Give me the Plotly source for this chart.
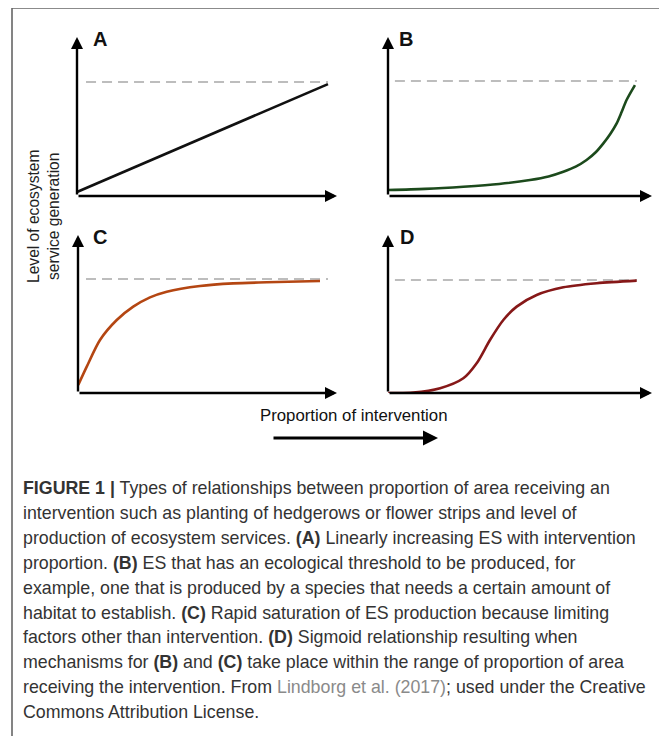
import plotly.graph_objects as go

W, H = 667, 736
OFF = 8  # page body margin in the browser

# ---- data (proportion of intervention, level of ES; 1 = saturation level) ----
a_x = [0.0, 1.0]
a_y = [0.035, 0.982]

b_x = [0.001, 0.15, 0.305, 0.45, 0.575, 0.65, 0.71, 0.76, 0.804, 0.84, 0.872, 0.90, 0.926, 0.946, 0.966, 1.0]
b_y = [0.052, 0.062, 0.081, 0.105, 0.139, 0.170, 0.211, 0.255, 0.313, 0.378, 0.458, 0.540, 0.632, 0.730, 0.835, 0.965]

c_x = [0.001, 0.035, 0.088, 0.155, 0.221, 0.288, 0.355, 0.488, 0.621, 0.755, 0.968]
c_y = [0.070, 0.231, 0.465, 0.640, 0.757, 0.839, 0.889, 0.939, 0.962, 0.971, 0.982]

d_x = [0.001, 0.102, 0.211, 0.305, 0.359, 0.413, 0.467, 0.521, 0.602, 0.710, 0.845, 1.007]
d_y = [0.0, 0.003, 0.042, 0.130, 0.263, 0.469, 0.646, 0.764, 0.867, 0.935, 0.971, 0.994]

thr_a_x = [0.036, 1.0]
thr_b_x = [0.028, 1.008]
thr_c_x = [0.032, 1.0]
thr_d_x = [0.028, 1.008]
thr_y = [1.0, 1.0]

panel_labels = ["A", "B", "C", "D"]
y_title = "Level of ecosystem<br>service generation"
x_title = "Proportion of intervention"

caption_lines = [
    "<b>FIGURE 1 |</b> Types of relationships between proportion of area receiving an",
    "intervention such as planting of hedgerows or flower strips and level of",
    "production of ecosystem services. <b>(A)</b> Linearly increasing ES with intervention",
    "proportion. <b>(B)</b> ES that has an ecological threshold to be produced, for",
    "example, one that is produced by a species that needs a certain amount of",
    "habitat to establish. <b>(C)</b> Rapid saturation of ES production because limiting",
    "factors other than intervention. <b>(D)</b> Sigmoid relationship resulting when",
    "mechanisms for <b>(B)</b> and <b>(C)</b> take place within the range of proportion of area",
    "receiving the intervention. From <span style='color:#8a8a8a'>Lindborg et al. (2017)</span>; used under the Creative",
    "Commons Attribution License.",
]

FONT = "Liberation Sans, Arial, sans-serif"


def px_x(p):
    return (p - OFF) / W


def px_y(p):
    return 1 - (p - OFF) / H


panels = {
    "A": dict(xd=(77, 337), yd=(196, 37), xr=1.036, yr=1.395),
    "B": dict(xd=(388, 652), yd=(196, 37), xr=1.069, yr=1.383),
    "C": dict(xd=(78, 337), yd=(393, 235), xr=1.036, yr=1.386),
    "D": dict(xd=(388, 652), yd=(393, 235), xr=1.069, yr=1.398),
}
series = {
    "A": (a_x, a_y, "#111111", thr_a_x),
    "B": (b_x, b_y, "#1c4a1c", thr_b_x),
    "C": (c_x, c_y, "#b44612", thr_c_x),
    "D": (d_x, d_y, "#861818", thr_d_x),
}
label_pos = {"A": (100, 39), "B": (406, 39), "C": (100, 237), "D": (407, 237)}

fig = go.Figure()
layout = dict(
    width=W, height=H, margin=dict(l=0, r=0, t=0, b=0),
    paper_bgcolor="white", plot_bgcolor="rgba(0,0,0,0)", showlegend=False,
)
annotations = []

for i, name in enumerate(panel_labels):
    g = panels[name]
    idx = "" if i == 0 else str(i + 1)
    xa, ya = "x" + idx, "y" + idx
    layout["xaxis" + idx] = dict(
        domain=[px_x(g["xd"][0]), px_x(g["xd"][1])], range=[0, g["xr"]],
        visible=False, anchor=ya, fixedrange=True,
    )
    layout["yaxis" + idx] = dict(
        domain=[px_y(g["yd"][0]), px_y(g["yd"][1])], range=[0, g["yr"]],
        visible=False, anchor=xa, fixedrange=True,
    )
    sx, sy, col, tx = series[name]
    fig.add_trace(go.Scatter(
        x=tx, y=thr_y, mode="lines", xaxis=xa, yaxis=ya,
        line=dict(color="#bdbdbd", width=2, dash="10px,6px"), hoverinfo="skip",
    ))
    fig.add_trace(go.Scatter(
        x=sx, y=sy, mode="lines", xaxis=xa, yaxis=ya,
        line=dict(color=col, width=2.6, shape="spline", smoothing=0.8),
    ))
    annotations.append(dict(
        x=g["xr"], y=0, ax=0, ay=0, xref=xa, yref=ya, axref=xa, ayref=ya,
        text="", showarrow=True, arrowhead=2, arrowsize=1.0, arrowwidth=2.4,
        arrowcolor="#000", standoff=0,
    ))
    annotations.append(dict(
        x=0, y=g["yr"], ax=0, ay=0, xref=xa, yref=ya, axref=xa, ayref=ya,
        text="", showarrow=True, arrowhead=2, arrowsize=1.0, arrowwidth=2.4,
        arrowcolor="#000", standoff=0,
    ))
    lx, ly = label_pos[name]
    annotations.append(dict(
        x=px_x(lx), y=px_y(ly), xref="paper", yref="paper", text="<b>%s</b>" % name,
        showarrow=False, xanchor="center", yanchor="middle",
        font=dict(family=FONT, size=20, color="#111"),
    ))

annotations.append(dict(
    x=px_x(43), y=px_y(217), xref="paper", yref="paper", text=y_title,
    showarrow=False, textangle=-90, xanchor="center", yanchor="middle",
    font=dict(family=FONT, size=15.6, color="#222"),
))
annotations.append(dict(
    x=px_x(354), y=px_y(415), xref="paper", yref="paper", text=x_title,
    showarrow=False, xanchor="center", yanchor="middle",
    font=dict(family=FONT, size=16.8, color="#111"),
))
annotations.append(dict(
    x=px_x(438), y=px_y(438), ax=-(438 - 272), ay=0,
    xref="paper", yref="paper", axref="pixel", ayref="pixel",
    text="", showarrow=True, arrowhead=2, arrowsize=1.0, arrowwidth=3,
    arrowcolor="#000", standoff=0,
))

for k, line in enumerate(caption_lines):
    annotations.append(dict(
        x=px_x(21), y=px_y(488 + 24.9 * k), xref="paper", yref="paper",
        text=line, showarrow=False, xanchor="left", yanchor="middle", align="left",
        font=dict(family=FONT, size=17.8, color="#333"),
    ))

layout["annotations"] = annotations
fig.update_layout(**layout)
fig.add_shape(
    type="rect", xref="paper", yref="paper",
    x0=px_x(12), x1=px_x(665), y0=-0.05, y1=px_y(8),
    line=dict(color="#666", width=1.6), fillcolor="rgba(0,0,0,0)", layer="above",
)
fig.write_html("out.html", config={"displayModeBar": False})
